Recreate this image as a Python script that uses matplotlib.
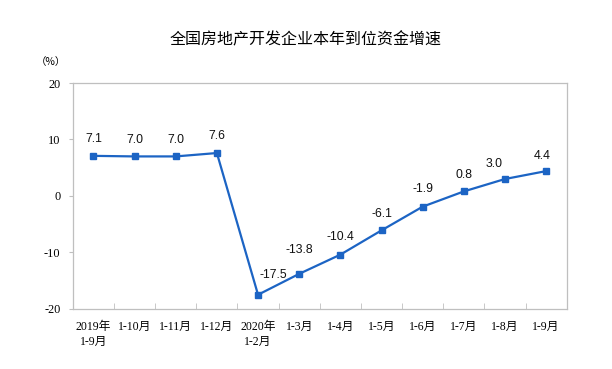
import matplotlib
matplotlib.use("Agg")
import matplotlib.pyplot as plt
import numpy as np

title = "全国房地产开发企业本年到位资金增速"
categories = ["2019年\n1-9月", "1-10月", "1-11月", "1-12月", "2020年\n1-2月", "1-3月",
              "1-4月", "1-5月", "1-6月", "1-7月", "1-8月", "1-9月"]
values = [7.1, 7.0, 7.0, 7.6, -17.5, -13.8, -10.4, -6.1, -1.9, 0.8, 3.0, 4.4]
yticks = [-20, -10, 0, 10, 20]

# label offsets in points (style)
label_dx = [0, 0, 0, 0, 11, 0, 0, 0, 0, 0, -8, -3]
label_dy = [12, 12, 12, 12, 14, 17, 13, 12, 13, 12, 11, 11]

color = "#1C64C4"
cjk = ["Noto Sans CJK SC", "DejaVu Sans"]
serif = ["Liberation Serif", "Noto Sans CJK SC"]

fig = plt.figure(figsize=(6.12, 3.69), dpi=100)
ax = fig.add_axes([0.119, 0.163, 0.807, 0.612])

x = np.arange(len(values))
ax.plot(x, values, color=color, lw=1.6, marker="s", ms=4.2, mfc=color, mec=color)

for xi, v, dx, dy in zip(x, values, label_dx, label_dy):
    ax.annotate(f"{v:.1f}", (xi, v), xytext=(dx, dy), textcoords="offset points",
                ha="center", va="center", fontsize=8.8, family="Liberation Sans",
                color="#111111")

ax.set_xlim(-0.5, len(values) - 0.5)
ax.set_ylim(-20, 20)
ax.set_yticks(yticks)
ax.set_yticklabels([str(t) for t in yticks], family=serif, fontsize=8.8)
ax.tick_params(axis="y", direction="out", length=3, color="#BFBFBF", pad=6)

ax.set_xticks(x)
ax.set_xticklabels([])
ax.tick_params(axis="x", which="major", length=0)
ax.set_xticks(np.arange(0.5, len(values) - 1, 1), minor=True)
ax.tick_params(axis="x", which="minor", direction="in", length=4, color="#BFBFBF")

for xi, lab in zip(x, categories):
    ax.text(xi, -0.055, lab, transform=ax.get_xaxis_transform(), ha="center", va="top",
            fontsize=8.5, family=["Liberation Serif", "Noto Sans CJK SC"], linespacing=1.3)

for s in ax.spines.values():
    s.set_color("#BFBFBF")
    s.set_linewidth(0.9)

fig.text(0.5, 0.892, title, ha="center", va="center", fontsize=11.5, family=cjk)
fig.text(0.083, 0.832, "（%）", ha="center", va="center", fontsize=7.5, family=cjk)

fig.savefig("out.png", dpi=100)
